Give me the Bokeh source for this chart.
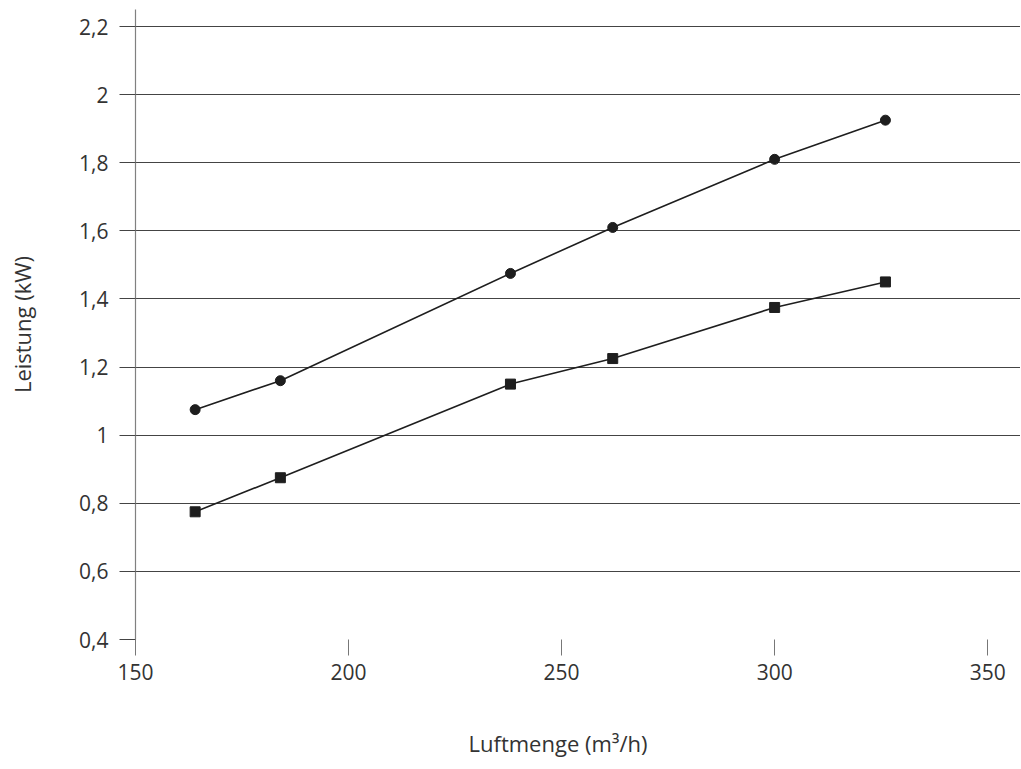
from bokeh.plotting import figure
from bokeh.models import FixedTicker, CustomJSTickFormatter, Range1d, Title
from bokeh.embed import file_html
from bokeh.resources import INLINE

x_values = [164, 184, 238, 262, 300, 326]
upper_kw = [1.075, 1.16, 1.475, 1.61, 1.81, 1.925]
lower_kw = [0.775, 0.875, 1.15, 1.225, 1.375, 1.45]
x_ticks = [150, 200, 250, 300, 350]
y_ticks = [0.4, 0.6, 0.8, 1.0, 1.2, 1.4, 1.6, 1.8, 2.0, 2.2]
x_title = "Luftmenge (m³/h)"
y_title = "Leistung (kW)"

FONT = "Open Sans"
TXT = "#333333"
DARK = "#1e1e1e"

p = figure(frame_width=885, frame_height=630, output_backend="svg", toolbar_location=None,
           x_range=Range1d(150, 357.7), y_range=Range1d(0.4, 2.25),
           min_border_left=135, min_border_right=0, min_border_top=9, min_border_bottom=10)
p.outline_line_color = None
p.background_fill_color = "white"
p.border_fill_color = "white"

p.line(x_values, upper_kw, line_color=DARK, line_width=1.6)
p.scatter(x_values, upper_kw, marker="circle", size=10, fill_color=DARK, line_color=DARK)
p.line(x_values, lower_kw, line_color=DARK, line_width=1.6)
p.scatter(x_values, lower_kw, marker="square", size=10, fill_color=DARK, line_color=DARK)

fmt = CustomJSTickFormatter(code="return Number(tick.toFixed(2)).toString().replace('.', ',');")

xa = p.xaxis[0]
xa.ticker = FixedTicker(ticks=x_ticks)
xa.axis_line_color = None
xa.major_tick_out = 16
xa.major_tick_in = 0
xa.major_tick_line_color = "#777777"
xa.minor_tick_line_color = None
xa.major_label_standoff = 8
xa.major_label_text_font = FONT
xa.major_label_text_font_size = "21px"
xa.major_label_text_color = TXT

ya = p.yaxis[0]
ya.ticker = FixedTicker(ticks=y_ticks)
ya.formatter = fmt
ya.axis_line_color = "#808080"
ya.axis_line_width = 1.2
ya.major_tick_out = 16
ya.major_tick_in = 0
ya.major_tick_line_color = "#444444"
ya.minor_tick_line_color = None
ya.major_label_standoff = 11
ya.major_label_text_font = FONT
ya.major_label_text_font_size = "21px"
ya.major_label_text_color = TXT
ya.axis_label = y_title
ya.axis_label_text_font = FONT
ya.axis_label_text_font_size = "22px"
ya.axis_label_text_font_style = "normal"
ya.axis_label_text_color = TXT
ya.axis_label_standoff = 39

p.xgrid.grid_line_color = None
p.ygrid.ticker = FixedTicker(ticks=y_ticks)
p.ygrid.grid_line_color = "#444444"
p.ygrid.grid_line_width = 1

p.add_layout(Title(text=x_title, align="left", offset=333, standoff=86,
                   text_font=FONT, text_font_size="22px", text_font_style="normal",
                   text_color=TXT), "below")

open("out.html", "w").write(file_html(p, INLINE))
